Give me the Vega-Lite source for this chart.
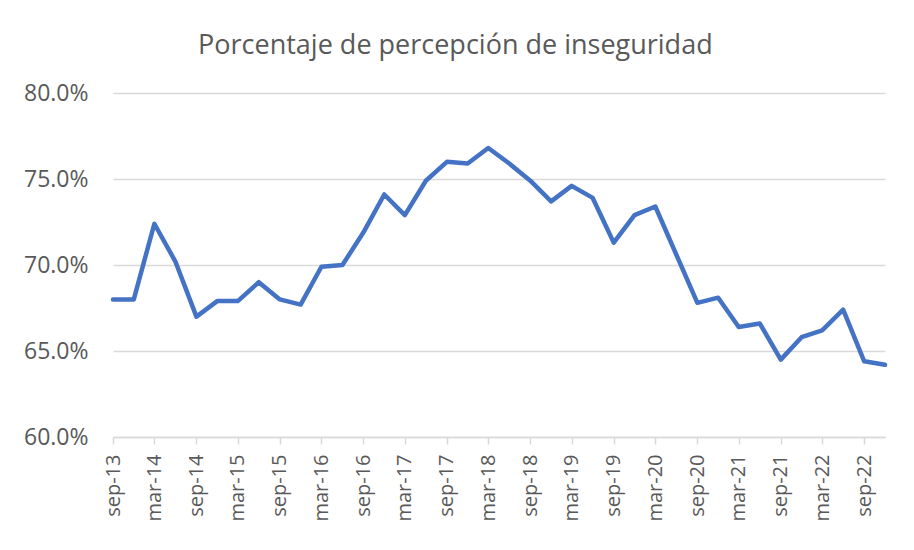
{
  "$schema": "https://vega.github.io/schema/vega-lite/v6.json",
  "width": 772,
  "height": 344,
  "autosize": {"type": "none"},
  "padding": {"left": 113, "top": 93, "right": 29, "bottom": 113},
  "background": "white",
  "title": {
    "text": "Porcentaje de percepción de inseguridad",
    "anchor": "middle",
    "frame": "bounds",
    "font": "Open Sans",
    "fontSize": 27,
    "fontWeight": "normal",
    "color": "#595959",
    "offset": 22
  },
  "config": {"view": {"stroke": null}},
  "data": {
    "values": [
      {"date": "2013-09-01", "pct": 68.0},
      {"date": "2013-12-01", "pct": 68.0},
      {"date": "2014-03-01", "pct": 72.4},
      {"date": "2014-06-01", "pct": 70.2},
      {"date": "2014-09-01", "pct": 67.0},
      {"date": "2014-12-01", "pct": 67.9},
      {"date": "2015-03-01", "pct": 67.9},
      {"date": "2015-06-01", "pct": 69.0},
      {"date": "2015-09-01", "pct": 68.0},
      {"date": "2015-12-01", "pct": 67.7},
      {"date": "2016-03-01", "pct": 69.9},
      {"date": "2016-06-01", "pct": 70.0},
      {"date": "2016-09-01", "pct": 71.9},
      {"date": "2016-12-01", "pct": 74.1},
      {"date": "2017-03-01", "pct": 72.9},
      {"date": "2017-06-01", "pct": 74.9},
      {"date": "2017-09-01", "pct": 76.0},
      {"date": "2017-12-01", "pct": 75.9},
      {"date": "2018-03-01", "pct": 76.8},
      {"date": "2018-06-01", "pct": 75.9},
      {"date": "2018-09-01", "pct": 74.9},
      {"date": "2018-12-01", "pct": 73.7},
      {"date": "2019-03-01", "pct": 74.6},
      {"date": "2019-06-01", "pct": 73.9},
      {"date": "2019-09-01", "pct": 71.3},
      {"date": "2019-12-01", "pct": 72.9},
      {"date": "2020-03-01", "pct": 73.4},
      {"date": "2020-09-01", "pct": 67.8},
      {"date": "2020-12-01", "pct": 68.1},
      {"date": "2021-03-01", "pct": 66.4},
      {"date": "2021-06-01", "pct": 66.6},
      {"date": "2021-09-01", "pct": 64.5},
      {"date": "2021-12-01", "pct": 65.8},
      {"date": "2022-03-01", "pct": 66.2},
      {"date": "2022-06-01", "pct": 67.4},
      {"date": "2022-09-01", "pct": 64.4},
      {"date": "2022-12-01", "pct": 64.2}
    ]
  },
  "mark": {"type": "line", "color": "#4472C4", "strokeWidth": 4.5, "strokeJoin": "round", "strokeCap": "round"},
  "encoding": {
    "x": {
      "field": "date",
      "type": "temporal",
      "scale": {"domain": [{"year": 2013, "month": 9, "date": 1}, {"year": 2022, "month": 12, "date": 1}]},
      "axis": {
        "title": null,
        "grid": false,
        "values": [
          {"year": 2013, "month": 9, "date": 1}, {"year": 2014, "month": 3, "date": 1},
          {"year": 2014, "month": 9, "date": 1}, {"year": 2015, "month": 3, "date": 1},
          {"year": 2015, "month": 9, "date": 1}, {"year": 2016, "month": 3, "date": 1},
          {"year": 2016, "month": 9, "date": 1}, {"year": 2017, "month": 3, "date": 1},
          {"year": 2017, "month": 9, "date": 1}, {"year": 2018, "month": 3, "date": 1},
          {"year": 2018, "month": 9, "date": 1}, {"year": 2019, "month": 3, "date": 1},
          {"year": 2019, "month": 9, "date": 1}, {"year": 2020, "month": 3, "date": 1},
          {"year": 2020, "month": 9, "date": 1}, {"year": 2021, "month": 3, "date": 1},
          {"year": 2021, "month": 9, "date": 1}, {"year": 2022, "month": 3, "date": 1},
          {"year": 2022, "month": 9, "date": 1}
        ],
        "labelExpr": "lower(timeFormat(datum.value, '%b-%y'))",
        "labelAngle": -90,
        "labelAlign": "right",
        "labelBaseline": "middle",
        "labelFont": "Open Sans",
        "labelFontSize": 20,
        "labelColor": "#595959",
        "labelPadding": 10,
        "labelOverlap": false,
        "labelFlush": false,
        "domainColor": "#d9d9d9",
        "domainWidth": 1.5,
        "tickColor": "#d9d9d9",
        "tickWidth": 1.5,
        "tickSize": 7
      }
    },
    "y": {
      "field": "pct",
      "type": "quantitative",
      "scale": {"domain": [60, 80], "nice": false, "zero": false},
      "axis": {
        "title": null,
        "values": [60, 65, 70, 75, 80],
        "labelExpr": "format(datum.value, '.1f') + '%'",
        "labelFont": "Open Sans",
        "labelFontSize": 23,
        "labelColor": "#595959",
        "labelPadding": 25,
        "domain": false,
        "ticks": false,
        "gridColor": "#d9d9d9",
        "gridWidth": 1.5
      }
    }
  }
}
